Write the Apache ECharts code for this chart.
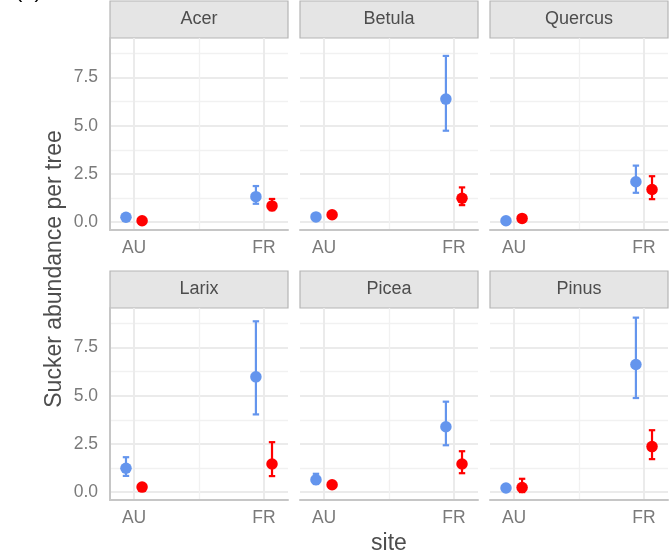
<!DOCTYPE html>
<html>
<head>
<meta charset="utf-8">
<script src="https://cdn.jsdelivr.net/npm/echarts@6/dist/echarts.min.js"></script>
<style>
  html, body { margin: 0; padding: 0; background: #fff; }
  #chart { width: 669px; height: 556px; }
</style>
</head>
<body>
<div id="chart"></div>
<script>
// facets and x categories
const genera = ['Acer', 'Betula', 'Quercus', 'Larix', 'Picea', 'Pinus'];
const sites = ['AU', 'FR'];
const yTicks = [0, 2.5, 5, 7.5];
const yMinorTicks = [1.25, 3.75, 6.25, 8.75];

// blue group, per genus: [AU, FR]
const blueMean = [[0.25, 1.32], [0.27, 6.38], [0.07, 2.09], [1.24, 5.98], [0.64, 3.39], [0.21, 6.62]];
const blueLow  = [[0.13, 0.95], [0.15, 4.74], [0.00, 1.52], [0.84, 4.03], [0.42, 2.43], [0.10, 4.88]];
const blueHigh = [[0.37, 1.87], [0.39, 8.62], [0.14, 2.93], [1.81, 8.86], [0.95, 4.69], [0.32, 9.05]];

// red group, per genus: [AU, FR]
const redMean = [[0.07, 0.84], [0.38, 1.24], [0.19, 1.69], [0.26, 1.46], [0.38, 1.46], [0.24, 2.36]];
const redLow  = [[0.00, 0.62], [0.26, 0.88], [0.08, 1.19], [0.14, 0.83], [0.26, 0.98], [0.00, 1.71]];
const redHigh = [[0.14, 1.20], [0.50, 1.80], [0.30, 2.38], [0.38, 2.59], [0.50, 2.12], [0.69, 3.21]];

const FONT = '"Liberation Sans", Arial, sans-serif';
const BLUE = '#6495ED';
const RED = '#FF0000';
const dodge = 0.062;

// panel layout
const colLeft = [110, 300, 490];
const rowTop = [38, 308];
const panelW = 178;
const panelH = 192;
const stripH = 37;
const xMin = 0.815, xMax = 2.185;
const yMin = -0.41, yMax = 9.55;

var myChart = echarts.init(document.getElementById('chart'));

function errorBars(color) {
    return function (params, api) {
        var x = api.value(0);
        var top = api.coord([x, api.value(2)]);
        var bot = api.coord([x, api.value(1)]);
        var hw = 3.2;
        var style = { stroke: color, lineWidth: 2.2 };
        return {
            type: 'group',
            children: [
                { type: 'line', shape: { x1: top[0], y1: top[1], x2: bot[0], y2: bot[1] }, style: style },
                { type: 'line', shape: { x1: top[0] - hw, y1: top[1], x2: top[0] + hw, y2: top[1] }, style: style },
                { type: 'line', shape: { x1: bot[0] - hw, y1: bot[1], x2: bot[0] + hw, y2: bot[1] }, style: style }
            ]
        };
    };
}

var grid = [], xAxis = [], yAxis = [], series = [], graphic = [];

genera.forEach(function (name, i) {
    var col = i % 3, row = Math.floor(i / 3);
    grid.push({ left: colLeft[col], top: rowTop[row], width: panelW, height: panelH, outerBoundsMode: 'none' });

    // strip header
    graphic.push({
        type: 'rect',
        shape: { x: colLeft[col], y: rowTop[row] - stripH, width: panelW, height: stripH },
        style: { fill: '#e5e5e5', stroke: '#b5b5b5', lineWidth: 1.2 }
    });
    graphic.push({
        type: 'text',
        x: colLeft[col] + panelW / 2,
        y: rowTop[row] - stripH / 2,
        style: { text: name, fill: '#4d4d4d', font: '18px ' + FONT, align: 'center', verticalAlign: 'middle' }
    });

    // major x axis
    xAxis.push({
        gridIndex: i, type: 'value', min: xMin, max: xMax, position: 'bottom',
        axisLine: { show: true, onZero: false, lineStyle: { color: '#c6c6c6', width: 2 } },
        axisTick: { show: false, customValues: [1, 2] },
        axisLabel: {
            customValues: [1, 2], margin: 9, color: '#7a7a7a', fontSize: 17.5, fontFamily: FONT,
            formatter: function (v) { return sites[Math.round(v) - 1]; }
        },
        splitLine: { show: true, lineStyle: { color: '#ebebeb', width: 2 } }
    });
    // minor x axis
    xAxis.push({
        gridIndex: i, type: 'value', min: xMin, max: xMax, position: 'top',
        axisLine: { show: false }, axisLabel: { show: false },
        axisTick: { show: false, customValues: [1.5] },
        splitLine: { show: true, lineStyle: { color: '#f1f1f1', width: 1.3 } }
    });

    // major y axis
    yAxis.push({
        gridIndex: i, type: 'value', min: yMin, max: yMax, position: 'left',
        axisLine: { show: col === 0, onZero: false, lineStyle: { color: '#c6c6c6', width: 2 } },
        axisTick: { show: false, customValues: yTicks },
        axisLabel: {
            show: col === 0, customValues: yTicks, margin: 12, color: '#7a7a7a', fontSize: 17.5, fontFamily: FONT,
            formatter: function (v) { return v.toFixed(1); }
        },
        splitLine: { show: true, lineStyle: { color: '#ebebeb', width: 2 } }
    });
    // minor y axis
    yAxis.push({
        gridIndex: i, type: 'value', min: yMin, max: yMax, position: 'right',
        axisLine: { show: false }, axisLabel: { show: false },
        axisTick: { show: false, customValues: yMinorTicks },
        splitLine: { show: true, lineStyle: { color: '#f1f1f1', width: 1.3 } }
    });

    var groups = [
        { name: 'blue', color: BLUE, off: -dodge, mean: blueMean[i], low: blueLow[i], high: blueHigh[i] },
        { name: 'red', color: RED, off: dodge, mean: redMean[i], low: redLow[i], high: redHigh[i] }
    ];
    groups.forEach(function (g, k) {
        series.push({
            name: g.name, type: 'custom', xAxisIndex: 2 * i, yAxisIndex: 2 * i,
            renderItem: errorBars(g.color),
            encode: { x: 0, y: [1, 2] },
            data: sites.map(function (s, j) { return [j + 1 + g.off, g.low[j], g.high[j]]; }),
            z: 2 + k * 2, silent: true
        });
        series.push({
            name: g.name, type: 'scatter', xAxisIndex: 2 * i, yAxisIndex: 2 * i,
            symbol: 'circle', symbolSize: 11.5,
            itemStyle: { color: g.color, opacity: 1 },
            data: sites.map(function (s, j) { return [j + 1 + g.off, g.mean[j]]; }),
            z: 3 + k * 2, silent: true
        });
    });
});

// axis titles and corner tag
graphic.push({
    type: 'text', x: 55, y: 269, rotation: Math.PI / 2,
    style: { text: 'Sucker abundance per tree', fill: '#4d4d4d', font: '23px ' + FONT, align: 'center', verticalAlign: 'middle' }
});
graphic.push({
    type: 'text', x: 389, y: 544,
    style: { text: 'site', fill: '#4d4d4d', font: '23px ' + FONT, align: 'center', verticalAlign: 'middle' }
});
graphic.push({
    type: 'text', x: 15, y: 2,
    style: { text: '(a)', fill: '#000', font: '22px ' + FONT, align: 'left', verticalAlign: 'bottom' }
});

var option = {
    backgroundColor: '#ffffff',
    animation: false,
    grid: grid,
    xAxis: xAxis,
    yAxis: yAxis,
    series: series,
    graphic: graphic
};
option && myChart.setOption(option);
</script>
</body>
</html>
